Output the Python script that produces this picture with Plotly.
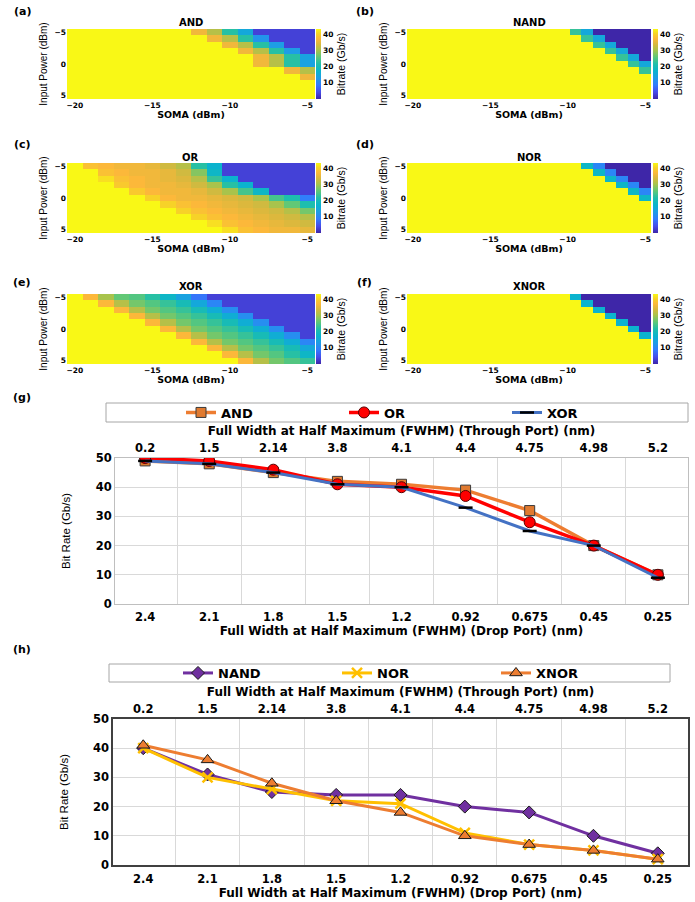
import plotly.graph_objects as go

# ---------------- data ----------------
soma_dbm = [-20, -19, -18, -17, -16, -15, -14, -13, -12, -11, -10, -9, -8, -7, -6, -5]
soma_dbm_fine = [-20, -19.25, -18.5, -17.75, -17, -16.25, -15.5, -14.75, -14, -13.25, -12.5,
                 -11.75, -11, -10.25, -9.5, -8.75, -8, -7.25, -6.5, -5.75, -5]
input_power_dbm = [-5, -4, -3, -2, -1, 0, 1, 2, 3, 4, 5]

and_bitrate = [
    [43, 43, 43, 43, 43, 43, 43, 43, 36, 31, 22, 15, 3, 3, 3, 3],
    [43, 43, 43, 43, 43, 43, 43, 43, 43, 36, 31, 22, 12, 3, 3, 3],
    [43, 43, 43, 43, 43, 43, 43, 43, 43, 43, 36, 31, 22, 13, 3, 3],
    [43, 43, 43, 43, 43, 43, 43, 43, 43, 43, 43, 36, 31, 22, 13, 3],
    [43, 43, 43, 43, 43, 43, 43, 43, 43, 43, 43, 43, 36, 31, 22, 14],
    [43, 43, 43, 43, 43, 43, 43, 43, 43, 43, 43, 43, 36, 31, 22, 14],
    [43, 43, 43, 43, 43, 43, 43, 43, 43, 43, 43, 43, 43, 43, 36, 31],
    [43, 43, 43, 43, 43, 43, 43, 43, 43, 43, 43, 43, 43, 43, 43, 36],
    [43, 43, 43, 43, 43, 43, 43, 43, 43, 43, 43, 43, 43, 43, 43, 43],
    [43, 43, 43, 43, 43, 43, 43, 43, 43, 43, 43, 43, 43, 43, 43, 43],
    [43, 43, 43, 43, 43, 43, 43, 43, 43, 43, 43, 43, 43, 43, 43, 43],
]

or_bitrate = [
    [43, 38, 37, 36, 36, 35, 33, 31, 22, 17, 3, 3, 3, 3, 3, 3],
    [43, 43, 38, 37, 36, 36, 35, 33, 28, 18, 3, 3, 3, 3, 3, 3],
    [43, 43, 41, 38, 37, 36, 35, 34, 31, 23, 17, 3, 3, 3, 3, 3],
    [43, 43, 43, 39, 37, 36, 36, 35, 33, 30, 22, 17, 3, 3, 3, 3],
    [43, 43, 43, 43, 39, 37, 36, 36, 35, 33, 30, 24, 18, 3, 3, 3],
    [43, 43, 43, 43, 43, 40, 37, 36, 36, 35, 34, 33, 30, 24, 21, 9],
    [43, 43, 43, 43, 43, 43, 40, 38, 37, 36, 35, 34, 33, 30, 26, 21],
    [43, 43, 43, 43, 43, 43, 43, 40, 38, 37, 36, 35, 34, 33, 31, 27],
    [43, 43, 43, 43, 43, 43, 43, 43, 40, 38, 37, 36, 35, 34, 33, 31],
    [43, 43, 43, 43, 43, 43, 43, 43, 43, 41, 38, 37, 36, 35, 34, 33],
    [43, 43, 43, 43, 43, 43, 43, 43, 43, 43, 41, 38, 37, 36, 36, 35],
]

xor_bitrate = [
    [43, 37, 30, 26, 25, 22, 18, 14, 8, 3, 3, 3, 3, 3, 3, 3],
    [43, 43, 37, 31, 27, 25, 23, 20, 15, 10, 3, 3, 3, 3, 3, 3],
    [43, 43, 43, 37, 31, 27, 25, 23, 20, 16, 11, 3, 3, 3, 3, 3],
    [43, 43, 43, 43, 37, 31, 27, 25, 23, 20, 16, 11, 3, 3, 3, 3],
    [43, 43, 43, 43, 43, 37, 31, 27, 25, 23, 20, 16, 11, 3, 3, 3],
    [43, 43, 43, 43, 43, 43, 37, 31, 27, 25, 23, 20, 16, 11, 3, 3],
    [43, 43, 43, 43, 43, 43, 43, 37, 31, 27, 25, 23, 20, 16, 11, 3],
    [43, 43, 43, 43, 43, 43, 43, 43, 37, 31, 27, 25, 23, 20, 16, 10],
    [43, 43, 43, 43, 43, 43, 43, 43, 43, 37, 31, 27, 25, 23, 20, 15],
    [43, 43, 43, 43, 43, 43, 43, 43, 43, 43, 37, 31, 27, 25, 22, 18],
    [43, 43, 43, 43, 43, 43, 43, 43, 43, 43, 43, 37, 31, 27, 25, 23],
]

nand_bitrate = [
    [43, 43, 43, 43, 43, 43, 43, 43, 43, 43, 43, 43, 43, 43, 23, 15, 0, 0, 0, 0, 0],
    [43, 43, 43, 43, 43, 43, 43, 43, 43, 43, 43, 43, 43, 43, 43, 23, 15, 0, 0, 0, 0],
    [43, 43, 43, 43, 43, 43, 43, 43, 43, 43, 43, 43, 43, 43, 43, 43, 23, 15, 0, 0, 0],
    [43, 43, 43, 43, 43, 43, 43, 43, 43, 43, 43, 43, 43, 43, 43, 43, 43, 23, 15, 0, 0],
    [43, 43, 43, 43, 43, 43, 43, 43, 43, 43, 43, 43, 43, 43, 43, 43, 43, 43, 23, 15, 0],
    [43, 43, 43, 43, 43, 43, 43, 43, 43, 43, 43, 43, 43, 43, 43, 43, 43, 43, 43, 23, 15],
    [43, 43, 43, 43, 43, 43, 43, 43, 43, 43, 43, 43, 43, 43, 43, 43, 43, 43, 43, 43, 23],
    [43, 43, 43, 43, 43, 43, 43, 43, 43, 43, 43, 43, 43, 43, 43, 43, 43, 43, 43, 43, 43],
    [43, 43, 43, 43, 43, 43, 43, 43, 43, 43, 43, 43, 43, 43, 43, 43, 43, 43, 43, 43, 43],
    [43, 43, 43, 43, 43, 43, 43, 43, 43, 43, 43, 43, 43, 43, 43, 43, 43, 43, 43, 43, 43],
    [43, 43, 43, 43, 43, 43, 43, 43, 43, 43, 43, 43, 43, 43, 43, 43, 43, 43, 43, 43, 43],
]

nor_bitrate = [
    [43, 43, 43, 43, 43, 43, 43, 43, 43, 43, 43, 43, 43, 43, 43, 18, 10, 0, 0, 0, 0],
    [43, 43, 43, 43, 43, 43, 43, 43, 43, 43, 43, 43, 43, 43, 43, 43, 18, 10, 0, 0, 0],
    [43, 43, 43, 43, 43, 43, 43, 43, 43, 43, 43, 43, 43, 43, 43, 43, 43, 18, 10, 0, 0],
    [43, 43, 43, 43, 43, 43, 43, 43, 43, 43, 43, 43, 43, 43, 43, 43, 43, 43, 18, 10, 0],
    [43, 43, 43, 43, 43, 43, 43, 43, 43, 43, 43, 43, 43, 43, 43, 43, 43, 43, 43, 18, 10],
    [43, 43, 43, 43, 43, 43, 43, 43, 43, 43, 43, 43, 43, 43, 43, 43, 43, 43, 43, 43, 18],
    [43, 43, 43, 43, 43, 43, 43, 43, 43, 43, 43, 43, 43, 43, 43, 43, 43, 43, 43, 43, 43],
    [43, 43, 43, 43, 43, 43, 43, 43, 43, 43, 43, 43, 43, 43, 43, 43, 43, 43, 43, 43, 43],
    [43, 43, 43, 43, 43, 43, 43, 43, 43, 43, 43, 43, 43, 43, 43, 43, 43, 43, 43, 43, 43],
    [43, 43, 43, 43, 43, 43, 43, 43, 43, 43, 43, 43, 43, 43, 43, 43, 43, 43, 43, 43, 43],
    [43, 43, 43, 43, 43, 43, 43, 43, 43, 43, 43, 43, 43, 43, 43, 43, 43, 43, 43, 43, 43],
]

xnor_bitrate = [
    [43, 43, 43, 43, 43, 43, 43, 43, 43, 43, 43, 43, 43, 43, 17, 0, 0, 0, 0, 0, 0],
    [43, 43, 43, 43, 43, 43, 43, 43, 43, 43, 43, 43, 43, 43, 43, 17, 0, 0, 0, 0, 0],
    [43, 43, 43, 43, 43, 43, 43, 43, 43, 43, 43, 43, 43, 43, 43, 43, 17, 0, 0, 0, 0],
    [43, 43, 43, 43, 43, 43, 43, 43, 43, 43, 43, 43, 43, 43, 43, 43, 43, 17, 0, 0, 0],
    [43, 43, 43, 43, 43, 43, 43, 43, 43, 43, 43, 43, 43, 43, 43, 43, 43, 43, 17, 0, 0],
    [43, 43, 43, 43, 43, 43, 43, 43, 43, 43, 43, 43, 43, 43, 43, 43, 43, 43, 43, 17, 0],
    [43, 43, 43, 43, 43, 43, 43, 43, 43, 43, 43, 43, 43, 43, 43, 43, 43, 43, 43, 43, 17],
    [43, 43, 43, 43, 43, 43, 43, 43, 43, 43, 43, 43, 43, 43, 43, 43, 43, 43, 43, 43, 43],
    [43, 43, 43, 43, 43, 43, 43, 43, 43, 43, 43, 43, 43, 43, 43, 43, 43, 43, 43, 43, 43],
    [43, 43, 43, 43, 43, 43, 43, 43, 43, 43, 43, 43, 43, 43, 43, 43, 43, 43, 43, 43, 43],
    [43, 43, 43, 43, 43, 43, 43, 43, 43, 43, 43, 43, 43, 43, 43, 43, 43, 43, 43, 43, 43],
]

heat_titles = ["AND", "NAND", "OR", "NOR", "XOR", "XNOR"]
heat_labels = ["(a)", "(b)", "(c)", "(d)", "(e)", "(f)"]
colorbar_ticks = [10, 20, 30, 40]

drop_port_fwhm = ["2.4", "2.1", "1.8", "1.5", "1.2", "0.92", "0.675", "0.45", "0.25"]
through_port_fwhm = ["0.2", "1.5", "2.14", "3.8", "4.1", "4.4", "4.75", "4.98", "5.2"]
and_rate = [49, 48, 45, 42, 41, 39, 32, 20, 10]
or_rate = [50, 49, 46, 41, 40, 37, 28, 20, 10]
xor_rate = [49, 48, 45, 41, 40, 33, 25, 20, 9]
nand_rate = [40, 31, 25, 24, 24, 20, 18, 10, 4]
nor_rate = [40, 30, 26, 22, 21, 11, 7, 5, 2]
xnor_rate = [41, 36, 28, 22, 18, 10, 7, 5, 2]
bitrate_ticks = [0, 10, 20, 30, 40, 50]

parula = [
    [0.00, "rgb(62,38,168)"],
    [0.10, "rgb(71,76,235)"],
    [0.20, "rgb(50,124,253)"],
    [0.30, "rgb(30,156,230)"],
    [0.40, "rgb(10,180,205)"],
    [0.50, "rgb(32,191,170)"],
    [0.60, "rgb(95,200,120)"],
    [0.70, "rgb(170,195,75)"],
    [0.78, "rgb(215,184,62)"],
    [0.86, "rgb(252,184,58)"],
    [0.93, "rgb(247,210,40)"],
    [1.00, "rgb(249,248,22)"],
]

# ---------------- layout helpers ----------------
W, H = 695, 902
def fx(px):
    return px / W
def fy(py):
    return 1 - py / H

SANS = "Liberation Sans, Arial, sans-serif"
WIDE = "DejaVu Sans, Liberation Sans, Arial, sans-serif"
NARROW = "Liberation Sans Narrow, Liberation Sans, Arial, sans-serif"

fig = go.Figure()
layout = dict(
    width=W, height=H, autosize=False,
    margin=dict(l=0, r=0, t=0, b=0, pad=0, autoexpand=False),
    paper_bgcolor="white", plot_bgcolor="white",
    font=dict(family=SANS, color="black"),
    annotations=[], shapes=[],
)

heat_data = [
    (and_bitrate, soma_dbm), (nand_bitrate, soma_dbm_fine),
    (or_bitrate, soma_dbm), (nor_bitrate, soma_dbm_fine),
    (xor_bitrate, soma_dbm), (xnor_bitrate, soma_dbm_fine),
]
rows_px = [(29, 99), (163, 233), (294, 364)]
cols_px = [(67, 315), (407, 651)]
cbar_px = [316, 653]
title_py = [22, 157, 287]
label_py = [11, 144, 282]
label_px = [22, 365]

for i, (z, xs) in enumerate(heat_data):
    r, c = divmod(i, 2)
    n = i + 1
    (x0, x1), (y0, y1) = cols_px[c], rows_px[r]
    step = xs[1] - xs[0]
    fig.add_trace(go.Heatmap(
        z=z, x=xs, y=input_power_dbm,
        xaxis=f"x{n}", yaxis=f"y{n}",
        colorscale=parula, zmin=0, zmax=43,
        hoverinfo="skip",
        colorbar=dict(
            x=fx(cbar_px[c]), xanchor="left", xpad=0,
            y=fy((y0 + y1) / 2), yanchor="middle", ypad=0,
            len=y1 - y0, lenmode="pixels",
            thickness=5, thicknessmode="pixels",
            outlinewidth=0, tickvals=colorbar_ticks, ticks="",
            tickfont=dict(size=7.5, family=WIDE, weight="bold"),
            title=dict(text="Bitrate (Gb/s)", side="right",
                       font=dict(size=10.5, family=NARROW)),
        ),
    ))
    layout[f"xaxis{n}"] = dict(
        domain=[fx(x0), fx(x1)], anchor=f"y{n}", automargin=False,
        range=[xs[0] - step / 2, xs[-1] + step / 2],
        tickvals=[-20, -15, -10, -5], ticks="", showgrid=False, zeroline=False,
        tickfont=dict(size=7.5, family=WIDE, weight="bold"),
        title=dict(text="SOMA (dBm)", standoff=1,
                   font=dict(size=9.5, family=WIDE, weight="bold")),
    )
    layout[f"yaxis{n}"] = dict(
        domain=[fy(y1), fy(y0)], anchor=f"x{n}", automargin=False,
        range=[5.5, -5.5], tickvals=[-5, 0, 5], ticks="",
        showgrid=False, zeroline=False,
        tickfont=dict(size=7.5, family=WIDE, weight="bold"),
        title=dict(text="Input Power (dBm)", standoff=4, font=dict(size=10, family=NARROW)),
    )
    layout["annotations"].append(dict(
        text=heat_titles[i], x=fx((x0 + x1) / 2), y=fy(title_py[r]),
        xref="paper", yref="paper", showarrow=False,
        font=dict(size=10, family=WIDE, weight="bold"), xanchor="center", yanchor="middle"))
    layout["annotations"].append(dict(
        text=heat_labels[i], x=fx(label_px[c]), y=fy(label_py[r]),
        xref="paper", yref="paper", showarrow=False,
        font=dict(size=11, family=WIDE, weight="bold"), xanchor="center", yanchor="middle"))

# ---------------- line charts ----------------
line_panels = [
    dict(ax=7, top=458, bot=604, x0=115, x1=688, frame="#BFBFBF", fw=1,
         legend="legend", box=(106, 688, 403, 422), leg_x=181, ew=118,
         label="(g)", label_y=398),
    dict(ax=9, top=719, bot=865, x0=113, x1=688, frame="#404040", fw=1.5,
         legend="legend2", box=(109, 670, 664, 682), leg_x=178, ew=114,
         label="(h)", label_y=649),
]

series = [
    [
        dict(name="AND", y=and_rate, color="#ED7D31", width=3.5,
             marker=dict(symbol="square", size=10, color="#E07A30",
                         line=dict(color="#3A3A3A", width=1))),
        dict(name="OR", y=or_rate, color="#FF0000", width=3.5,
             marker=dict(symbol="circle", size=11, color="#FF0000",
                         line=dict(color="#5A0000", width=1))),
        dict(name="XOR", y=xor_rate, color="#4472C4", width=3, top=True,
             marker=dict(symbol="line-ew", size=10, color="black",
                         line=dict(color="black", width=2.5))),
    ],
    [
        dict(name="NAND", y=nand_rate, color="#7030A0", width=3,
             marker=dict(symbol="diamond", size=10, color="#7030A0",
                         line=dict(color="#1A1A1A", width=1))),
        dict(name="NOR", y=nor_rate, color="#FFC000", width=3,
             marker=dict(symbol="x-thin", size=10, color="#FFC000",
                         line=dict(color="#FFC000", width=2.5))),
        dict(name="XNOR", y=xnor_rate, color="#ED7D31", width=3, top=True,
             marker=dict(symbol="triangle-up", size=11, color="#ED7D31",
                         line=dict(color="#1A1A1A", width=1))),
    ],
]

xrange_cat = [-0.47, 8.47]
TICKF = dict(size=11.5, family=WIDE, weight="bold")
TITLEF = dict(size=12, family=WIDE, weight="bold")
for p, ser in zip(line_panels, series):
    a = p["ax"]
    for s in ser:
        # each point has both a drop-port and a through-port FWHM; the last series
        # is drawn against the through-port (top) axis, which shares the same slots
        on_top = s.get("top", False)
        fig.add_trace(go.Scatter(
            x=through_port_fwhm if on_top else drop_port_fwhm, y=s["y"], name=s["name"],
            mode="lines+markers", xaxis=f"x{a + 1}" if on_top else f"x{a}", yaxis=f"y{a}",
            line=dict(color=s["color"], width=s["width"]),
            marker=s["marker"], legend=p["legend"], hoverinfo="skip",
        ))
    frame = dict(showline=True, mirror=True, linecolor=p["frame"], linewidth=p["fw"])
    layout[f"xaxis{a}"] = dict(
        domain=[fx(p["x0"]), fx(p["x1"])], anchor=f"y{a}", automargin=False,
        type="category", categoryorder="array", categoryarray=drop_port_fwhm,
        range=xrange_cat, tickson="boundaries", ticks="",
        showgrid=True, gridcolor="#D9D9D9", gridwidth=1, zeroline=False,
        tickfont=TICKF, ticklabelstandoff=2,
        title=dict(text="Full Width at Half Maximum (FWHM) (Drop Port) (nm)",
                   standoff=1, font=TITLEF),
        **frame,
    )
    layout[f"xaxis{a + 1}"] = dict(
        overlaying=f"x{a}", anchor=f"y{a}", side="top", automargin=False,
        type="category", categoryorder="array", categoryarray=through_port_fwhm,
        range=xrange_cat, ticks="", showgrid=False, zeroline=False, showline=False,
        tickfont=TICKF, ticklabelstandoff=3,
        title=dict(text="Full Width at Half Maximum (FWHM) (Through Port) (nm)",
                   standoff=2, font=TITLEF),
    )
    layout[f"yaxis{a}"] = dict(
        domain=[fy(p["bot"]), fy(p["top"])], anchor=f"x{a}", automargin=False,
        range=[0, 50], tickvals=bitrate_ticks, ticks="",
        showgrid=True, gridcolor="#D9D9D9", zeroline=False,
        tickfont=TICKF,
        title=dict(text="Bit Rate (Gb/s)", standoff=22, font=dict(size=11.5)),
        **frame,
    )
    bx0, bx1, by0, by1 = p["box"]
    layout["shapes"].append(dict(
        type="rect", xref="paper", yref="paper",
        x0=fx(bx0), x1=fx(bx1), y0=fy(by1), y1=fy(by0),
        line=dict(color="#A6A6A6", width=1), fillcolor="rgba(0,0,0,0)"))
    layout[p["legend"]] = dict(
        orientation="h", x=fx(p["leg_x"]), xanchor="left",
        y=fy((by0 + by1) / 2), yanchor="middle",
        font=dict(size=13, family=WIDE, weight="bold"), bgcolor="rgba(0,0,0,0)",
        entrywidth=p["ew"], entrywidthmode="pixels", itemwidth=30,
        borderwidth=0, traceorder="normal",
    )
    layout["annotations"].append(dict(
        text=p["label"], x=fx(22), y=fy(p["label_y"]),
        xref="paper", yref="paper", showarrow=False,
        font=dict(size=11, family=WIDE, weight="bold"), xanchor="center", yanchor="middle"))

fig.update_layout(**layout)
fig.write_html(
    "out.html",
    config={"displayModeBar": False},
    post_script=(
        "document.body.style.margin='0px';"
        "document.documentElement.style.overflow='hidden';"
        "var gd=document.getElementById('{plot_id}');"
        "gd.style.position='fixed';gd.style.left='0px';gd.style.top='0px';"
    ),
)
